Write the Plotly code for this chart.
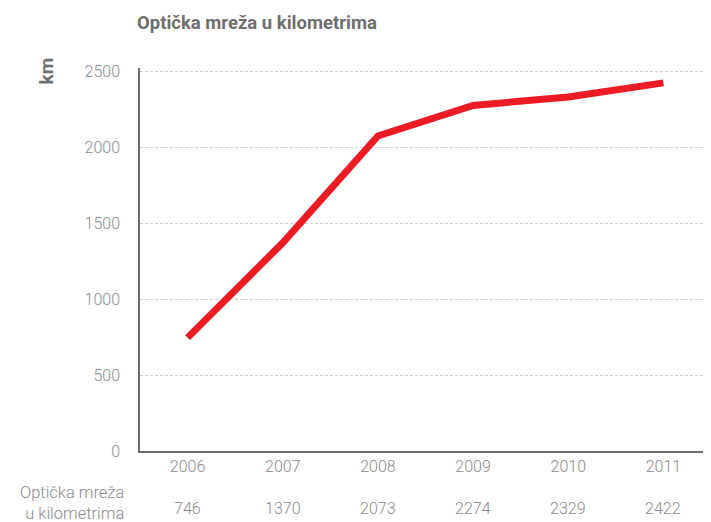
import plotly.graph_objects as go

years = ["2006", "2007", "2008", "2009", "2010", "2011"]
km = [746, 1370, 2073, 2274, 2329, 2422]
row_label = "Optička mreža<br>u kilometrima"

# page body has an 8px margin, so the figure is drawn 8px smaller and offset
W, H = 703, 514
L, T, B = 132, 60, 71
plot_w, plot_h = W - L, H - T - B

fig = go.Figure()
fig.add_trace(go.Scatter(x=years, y=km, mode="lines",
                         line=dict(color="#ED1C24", width=7),
                         showlegend=False, hoverinfo="x+y"))

# data row below the axis (x given as category index)
for i, v in enumerate(km):
    fig.add_annotation(x=i, y=0, xref="x", yref="paper", text=str(v),
                       showarrow=False, yanchor="middle", yshift=-57,
                       font=dict(size=16, color="#8a8a8a", family="Roboto", weight=300))
fig.add_annotation(x=0, y=0, xref="paper", yref="paper", text=row_label,
                   showarrow=False, xanchor="right", align="right", yanchor="middle",
                   xshift=-14, yshift=-52,
                   font=dict(size=16.5, color="#8a8a8a", family="Roboto", weight=300))
fig.add_annotation(x=-108 / plot_w, y=1 - 3 / plot_h, xref="paper", yref="paper",
                   text="<b>km</b>", showarrow=False, textangle=-90, yanchor="middle",
                   font=dict(size=19, color="#6e6e6e", family="Roboto", weight=700))

fig.update_layout(
    width=W, height=H,
    margin=dict(l=L, r=0, t=T, b=B),
    plot_bgcolor="white", paper_bgcolor="white",
    font=dict(family="Roboto", color="#8a8a8a", size=16, weight=300),
    title=dict(text="<b>Optička mreža u kilometrima</b>", x=129 / W, xanchor="left",
               y=1 - 15 / H, yanchor="middle",
               font=dict(size=18.5, color="#6e6e6e", family="Roboto", weight=700)),
    xaxis=dict(type="category", range=[-0.5, 5.5], showgrid=False,
               showline=True, linecolor="#6e6e6e", linewidth=1.5,
               ticks="", ticklabelstandoff=0, fixedrange=True),
    yaxis=dict(range=[0, 2520], tickvals=[0, 500, 1000, 1500, 2000, 2500],
               showgrid=True, gridcolor="#cfcfcf", griddash="3px,2px", gridwidth=1,
               showline=True, linecolor="#6e6e6e", linewidth=1.5,
               ticks="", ticklabelstandoff=15, zeroline=False, fixedrange=True),
)

fig.write_html("out.html")
